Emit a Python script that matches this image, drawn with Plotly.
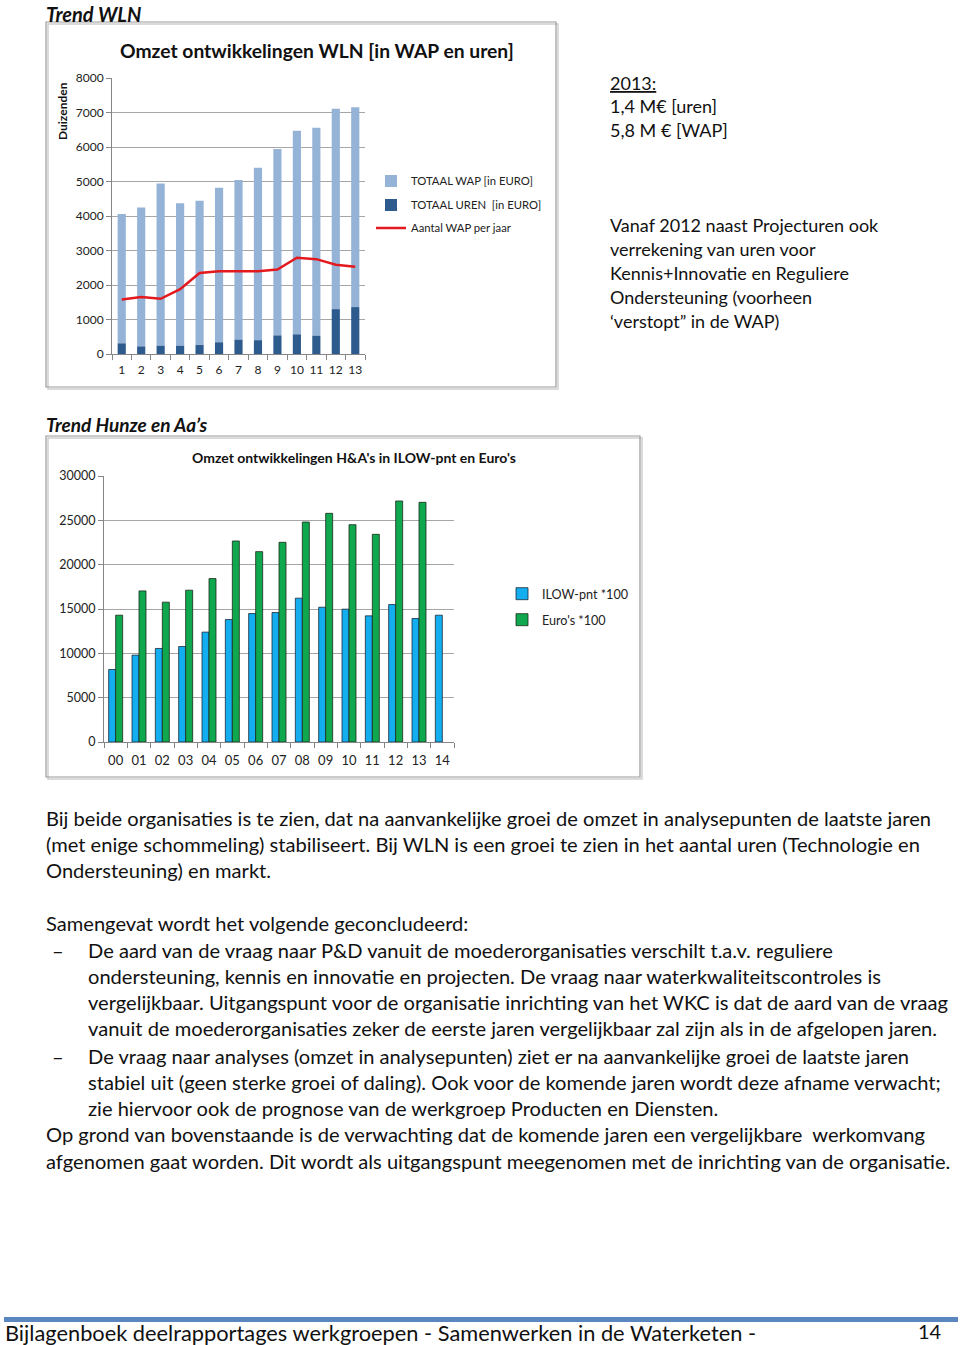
import plotly.graph_objects as go

# ---------------- data ----------------
wln_years = ["1", "2", "3", "4", "5", "6", "7", "8", "9", "10", "11", "12", "13"]
wln_uren = [310, 220, 240, 240, 260, 340, 415, 400, 540, 570, 530, 1300, 1360]
wln_wap = [3750, 4030, 4700, 4130, 4180, 4480, 4625, 5000, 5400, 5900, 6030, 5810, 5790]
wln_aantal = [1580, 1650, 1600, 1880, 2350, 2400, 2400, 2400, 2450, 2790, 2750, 2590, 2530]

ha_years = ["00", "01", "02", "03", "04", "05", "06", "07", "08", "09", "10", "11", "12", "13", "14"]
ha_ilow = [8180, 9800, 10550, 10770, 12390, 13810, 14490, 14600, 16220, 15200, 14980, 14230, 15500, 13930, 14300]
ha_euro = [14300, 17040, 15770, 17120, 18430, 22670, 21470, 22520, 24810, 25790, 24510, 23420, 27180, 27030, None]

W, H = 960, 1345
FONT = "Lato"


def X(x):
    return x / W


def Y(y):
    return 1 - y / H


fig = go.Figure()

# ---------------- chart 1 ----------------
fig.add_trace(go.Bar(x=wln_years, y=wln_wap, base=wln_uren, name="TOTAAL WAP [in EURO]",
                     marker_color="#95B3D7", offsetgroup="a", width=0.42, offset=-0.21,
                     xaxis="x", yaxis="y", legend="legend"))
fig.add_trace(go.Bar(x=wln_years, y=wln_uren, name="TOTAAL UREN  [in EURO]",
                     marker_color="#2E5B8E", offsetgroup="a", width=0.42, offset=-0.21,
                     xaxis="x", yaxis="y", legend="legend2"))
fig.add_trace(go.Scatter(x=wln_years, y=wln_aantal, mode="lines", name="Aantal WAP per jaar",
                         line=dict(color="#E3191E", width=2.5),
                         xaxis="x", yaxis="y", legend="legend3"))

# ---------------- chart 2 ----------------
fig.add_trace(go.Bar(x=ha_years, y=ha_ilow, name="ILOW-pnt *100", marker_color="#12AEEF",
                     marker_line=dict(color="#1A2A3A", width=0.8), offsetgroup="b1",
                     xaxis="x2", yaxis="y2", legend="legend4"))
fig.add_trace(go.Bar(x=ha_years, y=ha_euro, name="Euro's *100", marker_color="#10A84E",
                     marker_line=dict(color="#1A2A1A", width=0.8), offsetgroup="b2",
                     xaxis="x2", yaxis="y2", legend="legend5"))

axcommon = dict(showline=True, linecolor="#868686", linewidth=1, ticks="outside",
                tickcolor="#868686", ticklen=5, fixedrange=True, tickangle=0, automargin=False)
f12 = dict(family=FONT, size=12, color="#222")
f13 = dict(family=FONT, size=13, color="#222")
f125 = dict(family=FONT, size=12.5, color="#222")

fig.update_layout(
    template="none",
    width=W, height=H, margin=dict(l=0, r=0, t=0, b=0, pad=0, autoexpand=False),
    paper_bgcolor="white", plot_bgcolor="white",
    barmode="group", bargap=0.4, bargroupgap=0.0,
    font=dict(family=FONT, color="#111"),
    showlegend=True,
    xaxis=dict(domain=[X(112), X(365)], anchor="y", type="category", tickson="boundaries",
               showgrid=False, tickfont=f12, ticklabelstandoff=5, **axcommon),
    yaxis=dict(domain=[Y(354), Y(78)], anchor="x", range=[0, 8000], dtick=1000, tickformat="d",
               showgrid=True, gridcolor="#A6A6A6", gridwidth=1, zeroline=False, tickfont=f12,
               **axcommon),
    xaxis2=dict(domain=[X(104), X(454)], anchor="y2", type="category", tickson="boundaries",
                showgrid=False, tickfont=f13, ticklabelstandoff=6, **axcommon),
    yaxis2=dict(domain=[Y(742), Y(476)], anchor="x2", range=[0, 30000], dtick=5000, tickformat="d",
                showgrid=True, gridcolor="#A6A6A6", gridwidth=1, zeroline=False, tickfont=f125,
                **axcommon),
)

leg = dict(bgcolor="rgba(0,0,0,0)", xanchor="left", yanchor="middle", visible=True,
           font=dict(family=FONT, size=11.3, color="#222"), itemwidth=30,
           tracegroupgap=0, borderwidth=0)
leg2 = {**leg, "font": dict(family=FONT, size=12.6, color="#222")}
fig.update_layout(
    legend=dict(x=X(371), y=Y(181), **leg),
    legend2=dict(x=X(371), y=Y(205), **leg),
    legend3=dict(x=X(371), y=Y(228), **leg),
    legend4=dict(x=X(502), y=Y(594), **leg2),
    legend5=dict(x=X(502), y=Y(620), **leg2),
)

shapes = []
# chart frames
for (x0, y0, x1, y1) in [(46, 22, 556, 387), (46, 436, 640, 777)]:
    shapes.append(dict(type="rect", xref="paper", yref="paper", x0=X(x0 + 2), x1=X(x1 + 2),
                       y0=Y(y1 + 2), y1=Y(y0 + 2), line=dict(color="#D0D0D0", width=1.5),
                       fillcolor="rgba(0,0,0,0)", layer="below"))
    shapes.append(dict(type="rect", xref="paper", yref="paper", x0=X(x0), x1=X(x1),
                       y0=Y(y1), y1=Y(y0), line=dict(color="#9A9A9A", width=1.2),
                       fillcolor="rgba(0,0,0,0)", layer="below"))
# footer bar
shapes.append(dict(type="rect", xref="paper", yref="paper", x0=X(4), x1=X(958),
                   y0=Y(1322), y1=Y(1317), line=dict(width=0), fillcolor="#5B87C0"))
fig.update_layout(shapes=shapes)

ann = []


def txt(x, y, s, size=19, bold=False, italic=False, xanchor="left", color="#111", angle=0,
        yanchor="middle"):
    t = s
    if bold:
        t = "<b>" + t + "</b>"
    if italic:
        t = "<i>" + t + "</i>"
    if xanchor == "left":
        x = x - 2
    ann.append(dict(x=X(x), y=Y(y), xref="paper", yref="paper", text=t, showarrow=False,
                    xanchor=xanchor, yanchor=yanchor, textangle=angle,
                    font=dict(family=FONT, size=size, color=color)))


# headings
txt(46, 0, "Trend WLN", size=20, bold=True, italic=True, yanchor="top")
txt(46, 424, "Trend Hunze en Aa’s", size=19, bold=True, italic=True)

# chart titles
txt(317, 50, "Omzet ontwikkelingen WLN [in WAP en uren]", size=19.3, bold=True, xanchor="center")
txt(354, 458, "Omzet ontwikkelingen H&A's in ILOW-pnt en Euro's", size=14, bold=True, xanchor="center")
txt(63, 111, "Duizenden", size=12, bold=True, xanchor="center", angle=-90)

# right side text
RS = 18
txt(610, 83, "<u>2013:</u>", size=RS)
txt(610, 106, "1,4 M€ [uren]", size=RS)
txt(610, 130, "5,8 M € [WAP]", size=RS)
right_lines = ["Vanaf 2012 naast Projecturen ook", "verrekening van uren voor",
               "Kennis+Innovatie en Reguliere", "Ondersteuning (voorheen",
               "‘verstopt” in de WAP)"]
for i, s in enumerate(right_lines):
    txt(610, 225 + 24 * i, s, size=RS)

# body text
body = [
    (46, 818, "Bij beide organisaties is te zien, dat na aanvankelijke groei de omzet in analysepunten de laatste jaren"),
    (46, 844, "(met enige schommeling) stabiliseert. Bij WLN is een groei te zien in het aantal uren (Technologie en"),
    (46, 870, "Ondersteuning) en markt."),
    (46, 923, "Samengevat wordt het volgende geconcludeerd:"),
    (88, 950, "De aard van de vraag naar P&D vanuit de moederorganisaties verschilt t.a.v. reguliere"),
    (88, 976, "ondersteuning, kennis en innovatie en projecten. De vraag naar waterkwaliteitscontroles is"),
    (88, 1002, "vergelijkbaar. Uitgangspunt voor de organisatie inrichting van het WKC is dat de aard van de vraag"),
    (88, 1028, "vanuit de moederorganisaties zeker de eerste jaren vergelijkbaar zal zijn als in de afgelopen jaren."),
    (88, 1056, "De vraag naar analyses (omzet in analysepunten) ziet er na aanvankelijke groei de laatste jaren"),
    (88, 1082, "stabiel uit (geen sterke groei of daling). Ook voor de komende jaren wordt deze afname verwacht;"),
    (88, 1108, "zie hiervoor ook de prognose van de werkgroep Producten en Diensten."),
    (46, 1134, "Op grond van bovenstaande is de verwachting dat de komende jaren een vergelijkbare  werkomvang"),
    (46, 1161, "afgenomen gaat worden. Dit wordt als uitgangspunt meegenomen met de inrichting van de organisatie."),
]
BS = 20.1
for x, y, s in body:
    txt(x, y, s, size=BS)
txt(52, 950, "–", size=BS)
txt(52, 1056, "–", size=BS)

# footer
txt(5, 1332, "Bijlagenboek deelrapportages werkgroepen - Samenwerken in de Waterketen -", size=21.8)
txt(944, 1345, "14", size=20, xanchor="right", yanchor="bottom")

fig.update_layout(annotations=ann)

post = ("document.documentElement.style.margin='0';document.documentElement.style.padding='0';"
        "document.documentElement.style.overflow='hidden';"
        "document.body.style.margin='0';document.body.style.padding='0';"
        "document.body.style.overflow='hidden';"
        "var d=document.getElementById('{plot_id}');"
        "d.style.position='fixed';d.style.top='0px';d.style.left='0px';")

fig.write_html("out.html", config={"displayModeBar": False}, post_script=post)
